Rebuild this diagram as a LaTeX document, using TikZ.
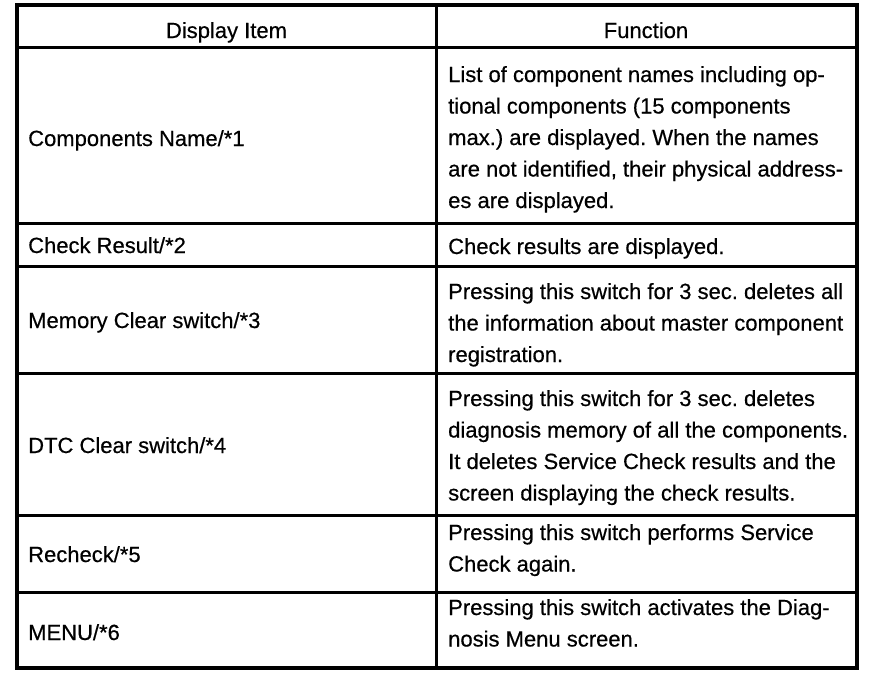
\documentclass[tikz,border=0pt]{standalone}
\usepackage{fontspec}
\setmainfont[FakeBold=0.5]{Liberation Sans}
\frenchspacing
\begin{document}
\begin{tikzpicture}[x=1pt, y=-1pt, font=\fontsize{22}{31.5}\selectfont,
	every node/.style={inner sep=0pt},
	item/.style={anchor=base west},
	func/.style={anchor=base west}]
\useasboundingbox (0,0) rectangle (896,678);
\draw[line width=3.5pt] (17,5) rectangle (857,668);
\foreach \y in {47, 223, 266, 373, 515, 592} {
	\draw[line width=3pt] (17,\y) -- (857,\y);
	};
\draw[line width=3pt] (436,5) -- (436,668);

\node (head item) at (226.5,38) [anchor=base] {Display Item};
\node (head func) at (646,38) [anchor=base] {Function};

\node (name) at (28,146) [item] {Components Name/*1};
\node (result) at (28,253) [item] {Check Result/*2};
\node (memory) at (28,328) [item] {Memory Clear switch/*3};
\node (dtc) at (28,453) [item] {DTC Clear switch/*4};
\node (recheck) at (28,562) [item] {Recheck/*5};
\node (menu) at (28,640) [item] {MENU/*6};

\node (name func) at (448,82) [func] {\parbox[t]{420pt}{List of component names including op-\\
	tional components (15 components\\ max.) are displayed. When the names\\
	are not identified, their physical address-\\ es are displayed.}};
\node (result func) at (448,254) [func] {Check results are displayed.};
\node (memory func) at (448,299) [func] {\parbox[t]{420pt}{Pressing this switch for 3 sec. deletes all\\
	the information about master component\\ registration.}};
\node (dtc func) at (448,406) [func] {\parbox[t]{420pt}{Pressing this switch for 3 sec. deletes\\
	diagnosis memory of all the components.\\ It deletes Service Check results and the\\
	screen displaying the check results.}};
\node (recheck func) at (448,540) [func] {\parbox[t]{420pt}{Pressing this switch performs Service\\ Check again.}};
\node (menu func) at (448,615) [func] {\parbox[t]{420pt}{Pressing this switch activates the Diag-\\ nosis Menu screen.}};
\end{tikzpicture}
\end{document}
